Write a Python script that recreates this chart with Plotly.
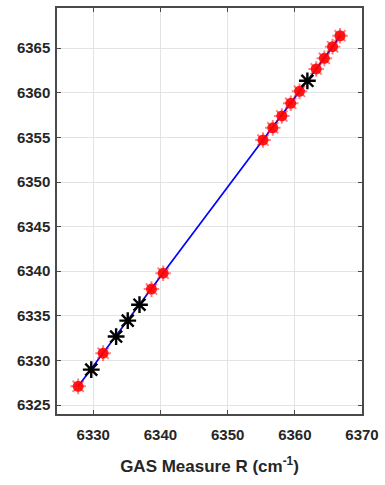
import plotly.graph_objects as go

# Calibration points (x: measured R, y: reference)
red_x = [6327.75, 6331.46, 6338.66, 6340.40, 6355.26, 6356.72, 6358.07,
         6359.39, 6360.70, 6363.18, 6364.39, 6365.62, 6366.73]
red_y = [6327.10, 6330.82, 6338.00, 6339.78, 6354.70, 6356.07, 6357.40,
         6358.82, 6360.16, 6362.67, 6363.86, 6365.17, 6366.39]

# Test points
black_x = [6329.70, 6333.40, 6335.13, 6336.88, 6361.87]
black_y = [6328.97, 6332.68, 6334.47, 6336.25, 6361.34]

x_ticks = [6330, 6340, 6350, 6360, 6370]
y_ticks = [6325, 6330, 6335, 6340, 6345, 6350, 6355, 6360, 6365]

FONT = "Liberation Sans, Arial, sans-serif"

fig = go.Figure()

# fitted line through the calibration points
fig.add_trace(go.Scatter(
    x=red_x, y=red_y, mode="lines",
    line=dict(color="#0000ff", width=1.7),
    hoverinfo="skip", showlegend=False,
))

# red calibration markers
fig.add_trace(go.Scatter(
    x=red_x, y=red_y, mode="markers",
    marker=dict(symbol="circle", size=11, color="rgba(255,0,0,0.88)",
                line=dict(width=0)),
    showlegend=False,
))
fig.add_trace(go.Scatter(
    x=red_x, y=red_y, mode="markers",
    marker=dict(symbol="asterisk-open", size=13, color="rgba(255,0,0,0.5)",
                line=dict(color="rgba(255,0,0,0.5)", width=2)),
    showlegend=False,
))

# black test markers
fig.add_trace(go.Scatter(
    x=black_x, y=black_y, mode="markers",
    marker=dict(symbol="asterisk-open", size=14, color="black",
                line=dict(color="black", width=2.4)),
    showlegend=False,
))

axis_common = dict(
    showline=True, linecolor="#4a4a4a", linewidth=1.5, mirror="ticks",
    ticks="inside", ticklen=4, tickwidth=1, tickcolor="#4a4a4a",
    showgrid=True, gridcolor="#e3e3e3", gridwidth=1,
    zeroline=False,
    tickfont=dict(family=FONT, size=15, color="#262626", weight="bold"),
)

fig.update_layout(
    width=385, height=485,
    margin=dict(l=57, r=18, t=6, b=71),
    paper_bgcolor="white", plot_bgcolor="white",
    xaxis=dict(
        range=[6324.6, 6370], tickvals=x_ticks,
        ticktext=[str(v) for v in x_ticks],
        title=dict(text="GAS Measure R (cm<sup>-1</sup>)",
                   font=dict(family=FONT, size=17, color="#262626",
                             weight="bold"),
                   standoff=18),
        ticklabelstandoff=6,
        **axis_common,
    ),
    yaxis=dict(
        range=[6324, 6369.5], tickvals=y_ticks,
        ticktext=[str(v) for v in y_ticks],
        ticklabelstandoff=2,
        **axis_common,
    ),
)

fig.write_html("out.html")
